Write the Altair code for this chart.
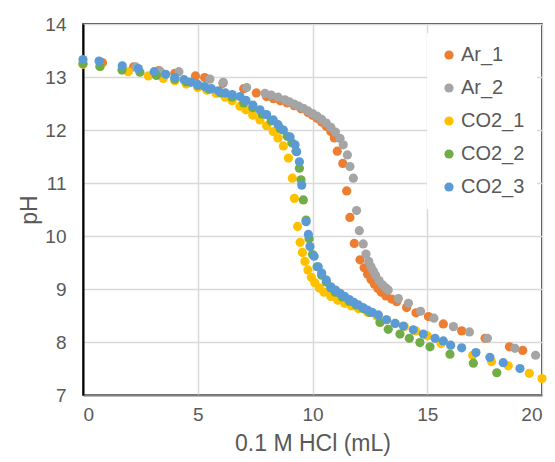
import altair as alt
import pandas as pd

series_names = ["Ar_1", "Ar_2", "CO2_1", "CO2_2", "CO2_3"]
series_colors = ["#ED7D31", "#A5A5A5", "#FFC000", "#70AD47", "#5B9BD5"]

ar1_x = [0.85, 2.2, 3.3, 4.0, 4.9, 5.3, 6.1, 7.0, 7.55, 8.0, 8.3, 8.6, 8.9, 9.2, 9.5, 9.8, 10.0,
         10.2, 10.4, 10.6, 10.8, 10.95, 11.08, 11.32, 11.49, 11.63, 11.82, 12.07, 12.25, 12.4,
         12.55, 12.7, 12.85, 13.0, 13.2, 13.45, 13.67, 14.1, 14.51, 15.05, 15.7, 16.5, 17.52,
         18.58, 19.16]
ar1_y = [13.27, 13.19, 13.12, 13.07, 13.02, 12.99, 12.88, 12.78, 12.70, 12.63, 12.59, 12.55,
         12.51, 12.46, 12.40, 12.33, 12.28, 12.22, 12.15, 12.07, 11.97, 11.85, 11.60, 11.37,
         10.85, 10.35, 9.86, 9.55, 9.40, 9.28, 9.18, 9.09, 9.01, 8.94, 8.87, 8.81, 8.76, 8.65,
         8.55, 8.48, 8.34, 8.21, 8.07, 7.91, 7.84]

ar2_x = [2.3, 3.36, 4.18, 5.53, 6.11, 7.13, 7.93, 8.2, 8.5, 8.8, 9.0, 9.2, 9.4, 9.6, 9.8, 10.0,
         10.2, 10.4, 10.6, 10.8, 11.0, 11.2, 11.34, 11.52, 11.63, 11.78, 11.92, 12.04, 12.21,
         12.33, 12.45, 12.55, 12.65, 12.75, 12.9, 13.05, 13.2, 13.3, 13.74, 14.18, 14.71, 15.29,
         16.14, 16.84, 17.62, 18.82, 19.72]
ar2_y = [13.19, 13.11, 13.10, 12.96, 12.90, 12.80, 12.69, 12.66, 12.62, 12.57, 12.53, 12.49,
         12.45, 12.41, 12.36, 12.31, 12.26, 12.20, 12.13, 12.05, 11.96, 11.84, 11.72, 11.53,
         11.31, 11.09, 10.48, 10.10, 9.85, 9.66, 9.52, 9.42, 9.34, 9.26, 9.16, 9.08, 9.02, 8.98,
         8.82, 8.73, 8.58, 8.45, 8.29, 8.19, 8.07, 7.88, 7.75]

co2_1_x = [0.0, 0.74, 1.97, 2.85, 3.5, 4.0, 4.5, 5.0, 5.4, 5.8, 6.2, 6.5, 6.84, 7.1, 7.4, 7.71,
           8.0, 8.29, 8.5, 8.73, 8.95, 9.12, 9.21, 9.35, 9.46, 9.56, 9.67, 9.8, 9.95, 10.1, 10.3,
           10.5, 10.8, 11.1, 11.4, 11.7, 12.0, 12.4, 12.8, 13.2, 13.6, 14.0, 14.5, 15.0, 15.6,
           16.98, 17.8, 18.53, 19.45, 20.0]
co2_1_y = [13.24, 13.20, 13.10, 13.02, 12.97, 12.93, 12.87, 12.80, 12.75, 12.69, 12.62, 12.55,
           12.45, 12.38, 12.28, 12.19, 12.08, 11.97, 11.85, 11.70, 11.47, 11.09, 10.71, 10.18,
           9.88, 9.69, 9.52, 9.36, 9.22, 9.12, 9.02, 8.94, 8.86, 8.79, 8.73, 8.68, 8.63, 8.56,
           8.49, 8.42, 8.35, 8.29, 8.21, 8.12, 7.97, 7.75, 7.63, 7.55, 7.41, 7.31]

co2_2_x = [0.0, 0.74, 1.7, 2.48, 3.2, 4.0, 4.5, 5.0, 5.5, 6.0, 6.5, 7.0, 7.4, 7.8, 8.2, 8.6, 8.9,
           9.1, 9.28, 9.43, 9.5, 9.6, 9.72, 9.85, 10.0, 10.2, 10.4, 10.6, 10.8, 11.0, 11.3, 11.6,
           11.9, 12.2, 12.5, 12.94, 13.3, 13.81, 14.22, 14.68, 15.12, 15.99, 17.01, 18.03]
co2_2_y = [13.25, 13.20, 13.13, 13.09, 13.03, 12.96, 12.91, 12.84, 12.77, 12.70, 12.62, 12.51,
           12.42, 12.30, 12.17, 12.02, 11.88, 11.76, 11.60, 11.28, 11.06, 10.68, 10.30, 9.95,
           9.65, 9.42, 9.26, 9.13, 9.02, 8.94, 8.85, 8.77, 8.70, 8.63, 8.56, 8.37, 8.24, 8.15,
           8.07, 7.99, 7.91, 7.77, 7.60, 7.42]

co2_3_x = [0.0, 0.7, 1.71, 2.41, 3.1, 3.6, 4.0, 4.4, 4.7, 5.0, 5.3, 5.6, 5.9, 6.2, 6.5, 6.84, 7.1,
           7.4, 7.71, 8.0, 8.29, 8.5, 8.73, 9.02, 9.24, 9.31, 9.43, 9.53, 9.72, 9.82, 9.89, 10.07,
           10.25, 10.4, 10.6, 10.8, 11.0, 11.2, 11.4, 11.6, 11.8, 12.0, 12.2, 12.4, 12.6, 12.87,
           13.23, 13.6, 13.96, 14.39, 14.83, 15.34, 15.7, 16.02, 16.5, 17.12, 17.73, 18.31, 19.04]
co2_3_y = [13.33, 13.30, 13.21, 13.16, 13.10, 13.05, 12.99, 12.95, 12.90, 12.86, 12.82, 12.78,
           12.74, 12.70, 12.67, 12.63, 12.56, 12.47, 12.38, 12.29, 12.19, 12.10, 12.00, 11.87,
           11.72, 11.59, 11.40, 10.96, 10.27, 10.03, 9.80, 9.62, 9.42, 9.30, 9.17, 9.04, 8.98,
           8.92, 8.86, 8.80, 8.75, 8.70, 8.65, 8.60, 8.56, 8.51, 8.42, 8.35, 8.30, 8.23, 8.15,
           8.07, 8.02, 7.94, 7.89, 7.80, 7.71, 7.61, 7.50]

xs = [ar1_x, ar2_x, co2_1_x, co2_2_x, co2_3_x]
ys = [ar1_y, ar2_y, co2_1_y, co2_2_y, co2_3_y]

rows = []
for name, sx, sy in zip(series_names, xs, ys):
    for a, b in zip(sx, sy):
        rows.append({"series": name, "hcl": a, "ph": b})
df = pd.DataFrame(rows)

font = "Liberation Sans"
text_color = "#595959"

chart = alt.Chart(df).mark_circle(size=85, opacity=1).encode(
    x=alt.X("hcl:Q", title="0.1 M HCl (mL)",
            scale=alt.Scale(domain=[0, 20], nice=False),
            axis=alt.Axis(values=[0, 5, 10, 15, 20], grid=True, ticks=False,
                          labelPadding=10, titlePadding=8,
                          domainColor="#808080", domainWidth=2)),
    y=alt.Y("ph:Q", title="pH",
            scale=alt.Scale(domain=[7, 14], nice=False, zero=False),
            axis=alt.Axis(values=[7, 8, 9, 10, 11, 12, 13, 14], grid=True, ticks=False,
                          labelPadding=17, titlePadding=3,
                          domainColor="black", domainWidth=2)),
    color=alt.Color("series:N",
                    scale=alt.Scale(domain=series_names, range=series_colors),
                    legend=alt.Legend(title=None, orient="none", legendX=344, legendY=9,
                                      symbolType="circle", symbolSize=85,
                                      labelFontSize=20, labelFont=font, labelColor=text_color,
                                      fillColor="white", padding=12, rowPadding=13,
                                      labelOffset=2, symbolStrokeWidth=0)),
).properties(
    width=459, height=371,
    autosize=alt.AutoSizeParams(type="none"),
    padding={"left": 75, "top": 16, "right": 5, "bottom": 66},
).configure_axis(
    labelFont=font, labelFontSize=19, labelColor=text_color,
    titleFont=font, titleFontSize=23, titleColor=text_color, titleFontWeight="normal",
    gridColor="#D9D9D9", gridWidth=1.5,
).configure_view(
    stroke="black", strokeWidth=1.5,
)

chart.save("out.html", embed_options={"renderer": "svg", "actions": False})
